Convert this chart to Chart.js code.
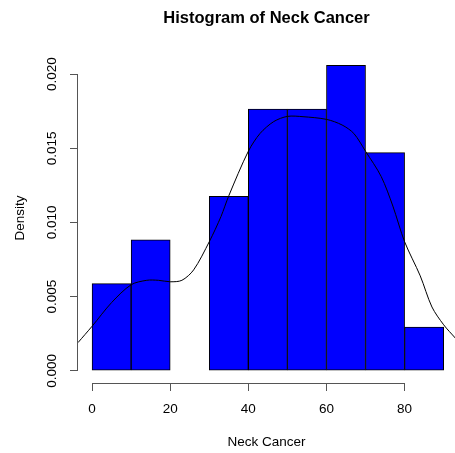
<!DOCTYPE html>
<html>
<head>
<meta charset="utf-8">
<script src="https://cdn.jsdelivr.net/npm/chart.js@4"></script>
<style>
  html, body { margin: 0; padding: 0; background: #fff; }
  #wrap { width: 455px; height: 453px; position: relative; }
</style>
</head>
<body>
<div id="wrap"><canvas id="myChart"></canvas></div>
<script>
// histogram bins (mid points) and densities
const binMids = [5, 15, 25, 35, 45, 55, 65, 75, 85];
const binDensity = [0.00588, 0.00882, 0, 0.01176, 0.01765, 0.01765, 0.02059, 0.01471, 0.00294];

// kernel density curve
const densX = [-3.6, 0, 5, 10, 14, 17, 20, 23, 26, 30, 33, 35, 40, 43, 46.5, 50, 54, 60, 64, 67, 70, 74, 77, 80, 84, 87, 90, 93];
const densY = [0.0019, 0.0030, 0.0046, 0.0058, 0.0061, 0.0061, 0.0060, 0.0061, 0.0068, 0.0087, 0.0104, 0.0118, 0.0148, 0.0160, 0.0168, 0.01715, 0.01713, 0.01695, 0.01657, 0.0160, 0.0148, 0.0131, 0.0111, 0.0087, 0.0064, 0.0043, 0.0031, 0.0022];

const xTicks = [0, 20, 40, 60, 80];
const yTicks = [0, 0.005, 0.010, 0.015, 0.020];

const font = 'Liberation Sans, Arial, Helvetica, sans-serif';

// R style axis lines: only from first to last tick
const rAxes = {
  id: 'rAxes',
  afterDraw(chart) {
    const { ctx, chartArea, scales: { x, y } } = chart;
    ctx.save();
    ctx.strokeStyle = '#555';
    ctx.lineWidth = 1;
    ctx.beginPath();
    const yb = Math.round(chartArea.bottom) + 0.5;
    ctx.moveTo(x.getPixelForValue(xTicks[0]), yb);
    ctx.lineTo(x.getPixelForValue(xTicks[xTicks.length - 1]), yb);
    const xl = Math.round(chartArea.left) - 0.5;
    ctx.moveTo(xl, y.getPixelForValue(yTicks[0]));
    ctx.lineTo(xl, y.getPixelForValue(yTicks[yTicks.length - 1]));
    ctx.stroke();
    ctx.restore();
  }
};

const ctx = document.getElementById('myChart').getContext('2d');
const chart = new Chart(ctx, {
  data: {
    datasets: [
      {
        type: 'line',
        data: densX.map((v, i) => ({ x: v, y: densY[i] })),
        borderColor: '#000',
        borderWidth: 1,
        pointRadius: 0,
        tension: 0.3,
        order: 0
      },
      {
        type: 'bar',
        data: binMids.map((v, i) => ({ x: v, y: binDensity[i] })),
        backgroundColor: '#0000ff',
        borderColor: '#000',
        borderWidth: 1,
        borderSkipped: false,
        barPercentage: 1,
        categoryPercentage: 1,
        order: 1
      }
    ]
  },
  options: {
    responsive: true,
    maintainAspectRatio: false,
    animation: false,
    layout: { padding: 0 },
    plugins: {
      legend: { display: false },
      tooltip: { enabled: false },
      title: {
        display: true,
        text: 'Histogram of Neck Cancer',
        fullSize: false,
        color: '#000',
        font: { family: font, size: 16.5, weight: 'bold' },
        padding: { top: 8.7, bottom: 24.5 }
      }
    },
    scales: {
      x: {
        type: 'linear',
        min: -3.6,
        max: 92.9,
        offset: false,
        afterBuildTicks: s => { s.ticks = xTicks.map(v => ({ value: v })); },
        afterFit: s => { s.height = 70; },
        grid: { offset: false, drawOnChartArea: false, drawTicks: true, tickLength: 8, color: '#555' },
        border: { display: false },
        ticks: { color: '#000', font: { family: font, size: 13.5 }, padding: 10, maxRotation: 0 },
        title: {
          display: true,
          text: 'Neck Cancer',
          color: '#000',
          font: { family: font, size: 13.5 },
          padding: { top: 0, bottom: 3 }
        }
      },
      y: {
        type: 'linear',
        min: -0.000824,
        max: 0.021424,
        afterBuildTicks: s => { s.ticks = yTicks.map(v => ({ value: v })); },
        afterFit: s => { s.width = 78; },
        grid: { drawOnChartArea: false, drawTicks: true, tickLength: 8, color: '#555' },
        border: { display: false },
        ticks: {
          color: '#000',
          font: { family: font, size: 13.5 },
          padding: 1,
          minRotation: 90,
          maxRotation: 90,
          crossAlign: 'center',
          callback: v => v.toFixed(3)
        },
        title: {
          display: true,
          text: 'Density',
          color: '#000',
          font: { family: font, size: 13.5 },
          padding: { top: 12, bottom: 0 }
        }
      }
    }
  },
  plugins: [rAxes]
});
</script>
</body>
</html>
